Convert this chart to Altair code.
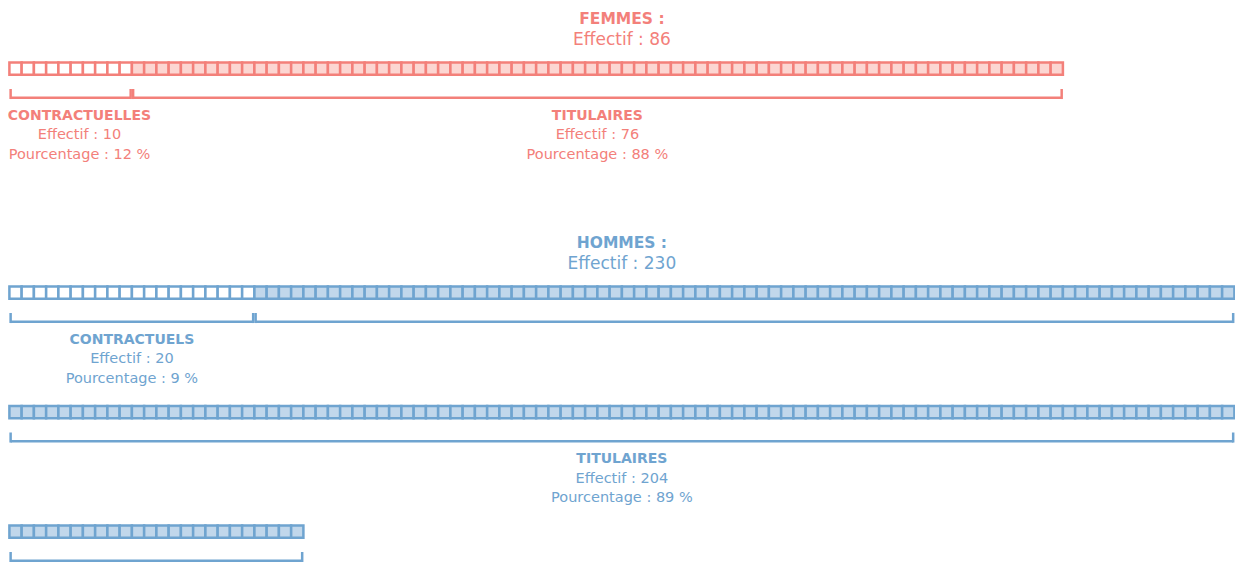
import altair as alt
import pandas as pd

# ---------------- data ----------------
groups = ["Femmes", "Hommes"]
group_titles = ["FEMMES :", "HOMMES :"]
group_totals = [86, 230]
statuses = ["Contractuel", "Titulaire"]
status_labels = {"Femmes": ["CONTRACTUELLES", "TITULAIRES"],
                 "Hommes": ["CONTRACTUELS", "TITULAIRES"]}
status_counts = {"Femmes": [10, 76], "Hommes": [20, 204]}
status_pcts = {"Femmes": [12, 88], "Hommes": [9, 89]}
units_per_row = 100

# ---------------- layout / style ----------------
W, H = 1227, 554            # plot area (page starts at 8,8)
PITCH = 12.25               # pixels per unit square
X0 = 9.4                    # page x of first square's left edge
GROUP_TOP = {"Femmes": 62.5, "Hommes": 286.5}
ROW_PITCH = 119.5
SQ = 12.3
FONT = "DejaVu Sans"
NAME_SIZE = 14
SUB_SIZE = 14.5
TITLE_BOLD = 15.5
TITLE_REG = 17

stroke_col = {"Femmes": "#f3807a", "Hommes": "#6fa4d0"}
fill_col = {"Femmes|Contractuel": "#ffffff", "Femmes|Titulaire": "#fcd6d2",
            "Hommes|Contractuel": "#ffffff", "Hommes|Titulaire": "#c1d7eb"}
text_col = {"Femmes": "#f07c76", "Hommes": "#6b9fcf"}

d0 = (8 - X0) / PITCH
d1 = d0 + W / PITCH

units, hlines, ticks, names, subs, titles = [], [], [], [], [], []
for gi, g in enumerate(groups):
    top = GROUP_TOP[g]
    idx = 0
    for si, s in enumerate(statuses):
        n = status_counts[g][si]
        rows = {}
        for k in range(n):
            col, row = idx % units_per_row, idx // units_per_row
            idx += 1
            y = top + row * ROW_PITCH
            units.append(dict(group=g, key=f"{g}|{s}", x=col, x2=col + 1, y=y, y2=y + SQ))
            rows.setdefault(row, []).append(col)
        best_row, best_span = None, -1
        for row, cols in rows.items():
            a, b = min(cols), max(cols) + 1
            ly = top + row * ROW_PITCH + 35.3
            hlines.append(dict(group=g, x=a + 0.1, x2=b - 0.1, y=ly))
            for tx in (a + 0.1, b - 0.1):
                ticks.append(dict(group=g, x=tx, y=top + row * ROW_PITCH + 26.5, y2=ly + 1.25))
            if b - a > best_span:
                best_row, best_span, seg = row, b - a, (a, b)
        a, b = seg
        center = (a + b) / 2
        name = status_labels[g][si]
        l2 = f"Effectif : {n}"
        l3 = f"Pourcentage : {status_pcts[g][si]} %"
        est_w = 143.0 if len(name) >= 14 else len(name) * 10.2
        min_center = d0 + (est_w / 2) / PITCH
        center = max(center, min_center)
        base = top + best_row * ROW_PITCH + 57.3
        names.append(dict(group=g, x=center, y=base, t=name))
        subs.append(dict(group=g, x=center, y=base + 19.5, t=l2))
        subs.append(dict(group=g, x=center, y=base + 39, t=l3))
    titles.append(dict(group=g, x=units_per_row / 2, y=top - 38.5, t=group_titles[gi], w="bold"))
    titles.append(dict(group=g, x=units_per_row / 2, y=top - 17.3, t=f"Effectif : {group_totals[gi]}", w="normal"))

xs = alt.Scale(domain=[d0, d1], nice=False, zero=False)
ys = alt.Scale(domain=[8, 8 + H], reverse=True, nice=False, zero=False)
stroke_scale = alt.Scale(domain=list(stroke_col.keys()), range=list(stroke_col.values()))
text_scale = alt.Scale(domain=list(text_col.keys()), range=list(text_col.values()))
fill_scale = alt.Scale(domain=list(fill_col.keys()), range=list(fill_col.values()))

X = lambda f="x": alt.X(f"{f}:Q", scale=xs, axis=None)
Y = lambda f="y": alt.Y(f"{f}:Q", scale=ys, axis=None)

rects = alt.Chart(pd.DataFrame(units)).mark_rect(strokeWidth=2.5).encode(
    x=X(), x2="x2", y=Y(), y2="y2",
    fill=alt.Fill("key:N", scale=fill_scale, legend=None),
    stroke=alt.Stroke("group:N", scale=stroke_scale, legend=None),
)
hl = alt.Chart(pd.DataFrame(hlines)).mark_rule(strokeWidth=2.5).encode(
    x=X(), x2="x2", y=Y(),
    color=alt.Color("group:N", scale=stroke_scale, legend=None),
)
tk = alt.Chart(pd.DataFrame(ticks)).mark_rule(strokeWidth=2.5).encode(
    x=X(), y=Y(), y2="y2",
    color=alt.Color("group:N", scale=stroke_scale, legend=None),
)
nm = alt.Chart(pd.DataFrame(names)).mark_text(
    font=FONT, fontSize=NAME_SIZE, fontWeight="bold", align="center", baseline="alphabetic"
).encode(x=X(), y=Y(), text="t:N", color=alt.Color("group:N", scale=text_scale, legend=None))
sb = alt.Chart(pd.DataFrame(subs)).mark_text(
    font=FONT, fontSize=SUB_SIZE, align="center", baseline="alphabetic"
).encode(x=X(), y=Y(), text="t:N", color=alt.Color("group:N", scale=text_scale, legend=None))
tdf = pd.DataFrame(titles)
tt1 = alt.Chart(tdf[tdf.w == "bold"]).mark_text(
    font=FONT, fontSize=TITLE_BOLD, fontWeight="bold", align="center", baseline="alphabetic"
).encode(x=X(), y=Y(), text="t:N", color=alt.Color("group:N", scale=text_scale, legend=None))
tt2 = alt.Chart(tdf[tdf.w == "normal"]).mark_text(
    font=FONT, fontSize=TITLE_REG, align="center", baseline="alphabetic"
).encode(x=X(), y=Y(), text="t:N", color=alt.Color("group:N", scale=text_scale, legend=None))

chart = alt.layer(rects, hl, tk, nm, sb, tt1, tt2).properties(
    width=W, height=H, autosize=alt.AutoSizeParams(type="none"), padding=0,
    background="white",
).configure_view(stroke=None)

chart.save("out.html", embed_options={"renderer": "svg", "actions": False})
